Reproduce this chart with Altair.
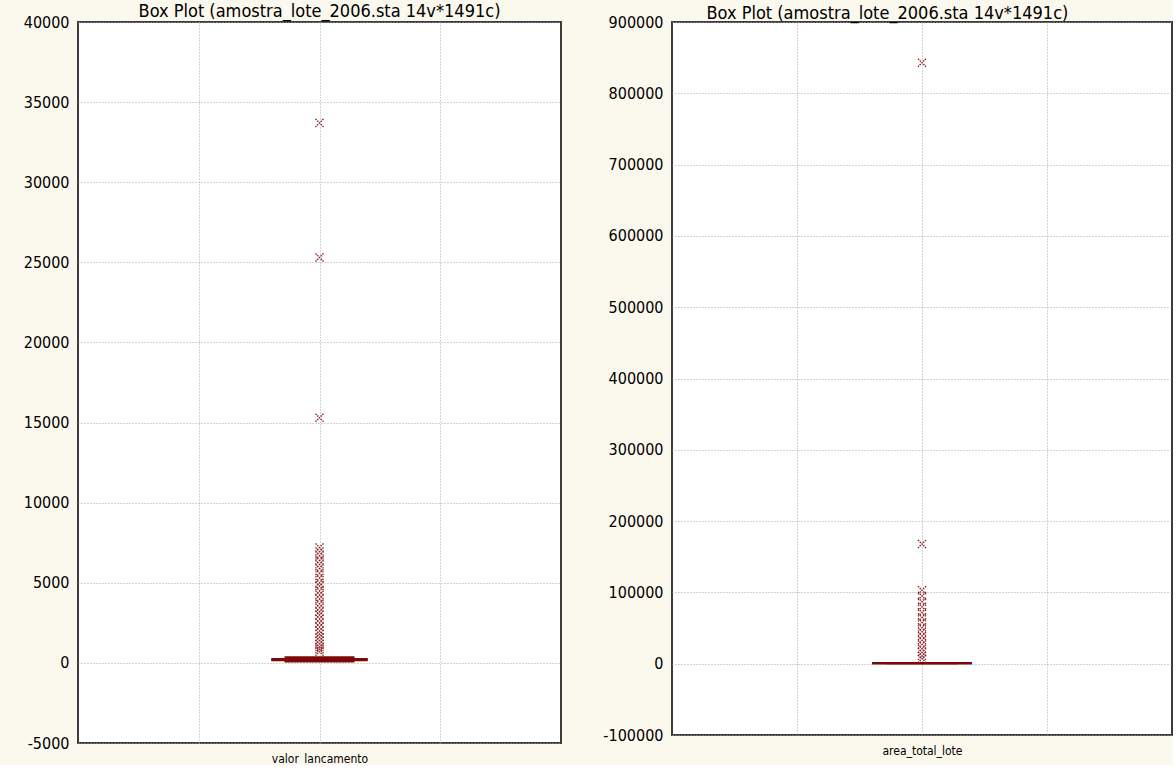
import altair as alt
import pandas as pd

# ---------------- data ----------------
TITLE = "Box Plot (amostra_lote_2006.sta 14v*1491c)"

left_name = "valor_lancamento"
left_stats = {"wlow": 170, "q1": 20, "median": 200, "q3": 420, "whigh": 250}
left_outliers = [33700, 25300, 15300, 7200, 6950, 6700, 6400, 6150, 5900, 5600,
                 5300, 5000, 4800, 4500, 4250, 4000, 3700, 3450, 3200, 3000,
                 2750, 2500, 2250, 2000, 1800, 1600, 1400, 1200, 1000, 850, 700]
left_ticks = [-5000, 0, 5000, 10000, 15000, 20000, 25000, 30000, 35000, 40000]

right_name = "area_total_lote"
right_stats = {"wlow": 400, "q1": 300, "median": 600, "q3": 1500, "whigh": 1100}
right_outliers = [843000, 168000, 103000, 95000, 87000, 80000, 72000, 65000,
                  58000, 51000, 45000, 39000, 33000, 27000, 21000, 16000,
                  11000, 7000]
right_ticks = [-100000, 0, 100000, 200000, 300000, 400000, 500000, 600000,
               700000, 800000, 900000]

# ---------------- styling ----------------
DARK_RED = "#7a0a0a"
MARK_RED = "#8b2020"
FONT = "DejaVu Sans Condensed, Liberation Sans, sans-serif"
CENTER = 2.0
BOX_HALF = 0.29
CAP_HALF = 0.40
X_SHAPE = "M-1,-1L1,1M1,-1L-1,1"


def panel(name, stats, outliers, ticks, width, height, title_offset, frame):
    ydom = [ticks[0], ticks[-1]]
    box_df = pd.DataFrame([{"x": CENTER - BOX_HALF, "x2": CENTER + BOX_HALF,
                            "y": stats["q1"], "y2": stats["q3"]}])
    cap_df = pd.DataFrame([
        {"x": CENTER - CAP_HALF, "x2": CENTER + CAP_HALF, "y": stats["wlow"]},
        {"x": CENTER - CAP_HALF, "x2": CENTER + CAP_HALF, "y": stats["whigh"]},
    ])
    med_df = pd.DataFrame([{"x": CENTER - BOX_HALF, "x2": CENTER + BOX_HALF,
                            "y": stats["median"]}])
    wh_df = pd.DataFrame([{"x": CENTER, "y": stats["wlow"], "y2": stats["whigh"]}])
    out_df = pd.DataFrame({"x": [CENTER] * len(outliers), "y": outliers})

    xs = alt.Scale(domain=[0, 4], nice=False, zero=False)
    ys = alt.Scale(domain=ydom, nice=False, zero=False)
    xaxis = alt.Axis(values=[1, 2, 3], title=None, grid=True,
                     labelExpr=f"datum.value == 2 ? '{name}' : ''",
                     labelFontSize=12, labelPadding=10, ticks=False,
                     domain=False, labelFont=FONT, labelColor="#000")
    yaxis = alt.Axis(values=ticks, title=None, grid=True,
                     labelExpr="'' + datum.value",
                     labelFontSize=16, labelPadding=9, ticks=False,
                     domain=False, labelFont=FONT, labelColor="#000")

    box = alt.Chart(box_df).mark_rect(color=DARK_RED).encode(
        x=alt.X("x:Q", scale=xs, axis=xaxis), x2="x2:Q",
        y=alt.Y("y:Q", scale=ys, axis=yaxis), y2="y2:Q")
    caps = alt.Chart(cap_df).mark_rule(color=DARK_RED, strokeWidth=2).encode(
        x=alt.X("x:Q", scale=xs), x2="x2:Q", y=alt.Y("y:Q", scale=ys))
    med = alt.Chart(med_df).mark_rule(color=DARK_RED, strokeWidth=2).encode(
        x=alt.X("x:Q", scale=xs), x2="x2:Q", y=alt.Y("y:Q", scale=ys))
    wh = alt.Chart(wh_df).mark_rule(color=DARK_RED, strokeWidth=2).encode(
        x=alt.X("x:Q", scale=xs), y=alt.Y("y:Q", scale=ys), y2="y2:Q")
    pts = alt.Chart(out_df).mark_point(shape=X_SHAPE, size=64, filled=False,
                                       color=MARK_RED, strokeWidth=1.4,
                                       opacity=1,
                                       strokeDash=[1.5, 1]).encode(
        x=alt.X("x:Q", scale=xs), y=alt.Y("y:Q", scale=ys))

    return alt.layer(box, caps, med, wh, pts).properties(
        width=width, height=height,
        title=alt.TitleParams(TITLE, font=FONT, fontSize=18, fontWeight="normal",
                              color="#000", anchor="middle", frame=frame,
                              offset=title_offset))


left = panel(left_name, left_stats, left_outliers, left_ticks, 483, 721, -7, "group")
right = panel(right_name, right_stats, right_outliers, right_ticks, 500, 713, -9, "bounds")

chart = alt.hconcat(left, right, spacing=39).properties(
    padding={"left": 22, "top": 2, "right": 0, "bottom": 0},
    background="#fbf8ee",
).configure_view(
    fill="white", stroke="#3c3c3c", strokeWidth=2
).configure_axis(
    gridColor="#a8a8a8", gridDash=[1, 2], gridWidth=1
)

chart.save("out.html", embed_options={"renderer": "svg", "actions": False})
